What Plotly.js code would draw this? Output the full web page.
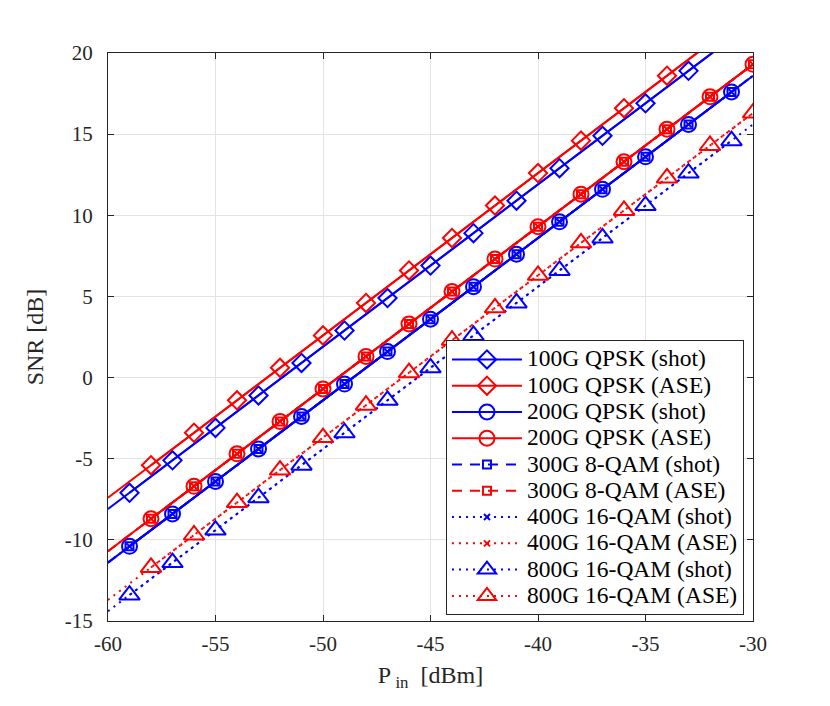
<!DOCTYPE html>
<html><head><meta charset="utf-8">
<script src="https://cdn.plot.ly/plotly-3.0.1.min.js"></script>
<style>body{margin:0;background:#fff}#plot{width:830px;height:706px}</style>
</head><body><div id="plot"></div>
<script>
// Marker positions (odd powers for "shot", even powers for "ASE")
var pinOdd = [-59,-57,-55,-53,-51,-49,-47,-45,-43,-41,-39,-37,-35,-33,-31];
var pinEven = [-58,-56,-54,-52,-50,-48,-46,-44,-42,-40,-38,-36,-34,-32,-30];
var pinLine = [-60,-30];

// 100G QPSK
var snr100Shot = [-7.1,-5.1,-3.1,-1.1,0.9,2.9,4.9,6.9,8.9,10.9,12.9,14.9,16.9,18.9,20.9];
var snr100ShotLine = [-8.1,21.9];
var snr100Ase = [-5.4,-3.4,-1.4,0.6,2.6,4.6,6.6,8.6,10.6,12.6,14.6,16.6,18.6,20.6,22.6];
var snr100AseLine = [-7.4,22.6];
// 200G QPSK / 300G 8-QAM / 400G 16-QAM (same symbol rate)
var snr200Shot = [-10.4,-8.4,-6.4,-4.4,-2.4,-0.4,1.6,3.6,5.6,7.6,9.6,11.6,13.6,15.6,17.6];
var snr200ShotLine = [-11.4,18.6];
var snr200Ase = [-8.7,-6.7,-4.7,-2.7,-0.7,1.3,3.3,5.3,7.3,9.3,11.3,13.3,15.3,17.3,19.3];
var snr200AseLine = [-10.7,19.3];
// 800G 16-QAM
var snr800Shot = [-13.4,-11.4,-9.4,-7.4,-5.4,-3.4,-1.4,0.6,2.6,4.6,6.6,8.6,10.6,12.6,14.6];
var snr800ShotLine = [-14.4,15.6];
var snr800Ase = [-11.7,-9.7,-7.7,-5.7,-3.7,-1.7,0.3,2.3,4.3,6.3,8.3,10.3,12.3,14.3,16.3];
var snr800AseLine = [-13.7,16.3];

// Tick labels
var xTickVals = [-60,-55,-50,-45,-40,-35,-30];
var xTickText = ['-60','-55','-50','-45','-40','-35','-30'];
var yTickVals = [-15,-10,-5,0,5,10,15,20];
var yTickText = ['-15','-10','-5','0','5','10','15','20'];

var names = ['100G QPSK (shot)','100G QPSK (ASE)','200G QPSK (shot)','200G QPSK (ASE)',
  '300G 8-QAM (shot)','300G 8-QAM (ASE)','400G 16-QAM (shot)','400G 16-QAM (ASE)',
  '800G 16-QAM (shot)','800G 16-QAM (ASE)'];

var BLUE = '#0000ff', RED = '#ff0000';
var FONT = "Liberation Serif";
var series = [
  {mx: pinOdd, my: snr100Shot, ly: snr100ShotLine, c: BLUE, dash: 'solid', sym: 'diamond-open', sz: 14},
  {mx: pinEven, my: snr100Ase, ly: snr100AseLine, c: RED, dash: 'solid', sym: 'diamond-open', sz: 14},
  {mx: pinOdd, my: snr200Shot, ly: snr200ShotLine, c: BLUE, dash: 'solid', sym: 'circle-open', sz: 15},
  {mx: pinEven, my: snr200Ase, ly: snr200AseLine, c: RED, dash: 'solid', sym: 'circle-open', sz: 15},
  {mx: pinOdd, my: snr200Shot, ly: snr200ShotLine, c: BLUE, dash: '10px,8px', sym: 'square-open', sz: 8},
  {mx: pinEven, my: snr200Ase, ly: snr200AseLine, c: RED, dash: '10px,8px', sym: 'square-open', sz: 8},
  {mx: pinOdd, my: snr200Shot, ly: snr200ShotLine, c: BLUE, dash: '2px,5px', sym: 'x-thin-open', sz: 6},
  {mx: pinEven, my: snr200Ase, ly: snr200AseLine, c: RED, dash: '2px,5px', sym: 'x-thin-open', sz: 6},
  {mx: pinOdd, my: snr800Shot, ly: snr800ShotLine, c: BLUE, dash: '2px,5px', sym: 'triangle-up-open', sz: 18},
  {mx: pinEven, my: snr800Ase, ly: snr800AseLine, c: RED, dash: '2px,5px', sym: 'triangle-up-open', sz: 18}
];

var traces = [];
series.forEach(function(s, i){
  traces.push({x: pinLine, y: s.ly, mode: 'lines', showlegend: false, hoverinfo: 'skip',
    line: {color: s.c, width: 2, dash: s.dash}, cliponaxis: true});
  traces.push({x: s.mx, y: s.my, mode: 'lines+markers',
    name: '<span style="font-size:23.5px">' + names[i] + '</span>',
    line: {color: s.c, width: 2, dash: s.dash},
    marker: {symbol: s.sym, size: s.sz, color: s.c, line: {color: s.c, width: 2}}, cliponaxis: true});
});

var axisCommon = {
  showline: true, linecolor: '#262626', linewidth: 1, mirror: 'ticks',
  ticks: 'inside', ticklen: 6, tickwidth: 1, tickcolor: '#262626',
  showgrid: true, gridcolor: '#e3e3e3', gridwidth: 1, zeroline: false,
  tickmode: 'array',
  tickfont: {family: FONT, size: 21, color: '#262626'}
};

var layout = {
  width: 830, height: 706,
  margin: {l: 108, r: 77, t: 53, b: 85},
  paper_bgcolor: '#fff', plot_bgcolor: '#fff',
  font: {family: FONT, color: '#262626'},
  xaxis: Object.assign({}, axisCommon, {range: [-60, -30], tickvals: xTickVals, ticktext: xTickText,
    ticklabelstandoff: 4,
    title: {text: 'P<sub> in</sub>  [dBm]', font: {family: FONT, size: 24, color: '#262626'}, standoff: 10}}),
  yaxis: Object.assign({}, axisCommon, {range: [-15, 20], tickvals: yTickVals, ticktext: yTickText,
    ticklabelstandoff: 10,
    title: {text: 'SNR [dB]', font: {family: FONT, size: 24, color: '#262626'}, standoff: 14}}),
  legend: {x: 0.986, xanchor: 'right', y: 0.01, yanchor: 'bottom',
    bgcolor: '#fff', bordercolor: '#262626', borderwidth: 1,
    font: {family: FONT, size: 17.9, color: '#000'},
    itemwidth: 70, tracegroupgap: 0},
  showlegend: true
};

Plotly.newPlot('plot', traces, layout, {staticPlot: true, displayModeBar: false});
</script></body></html>
